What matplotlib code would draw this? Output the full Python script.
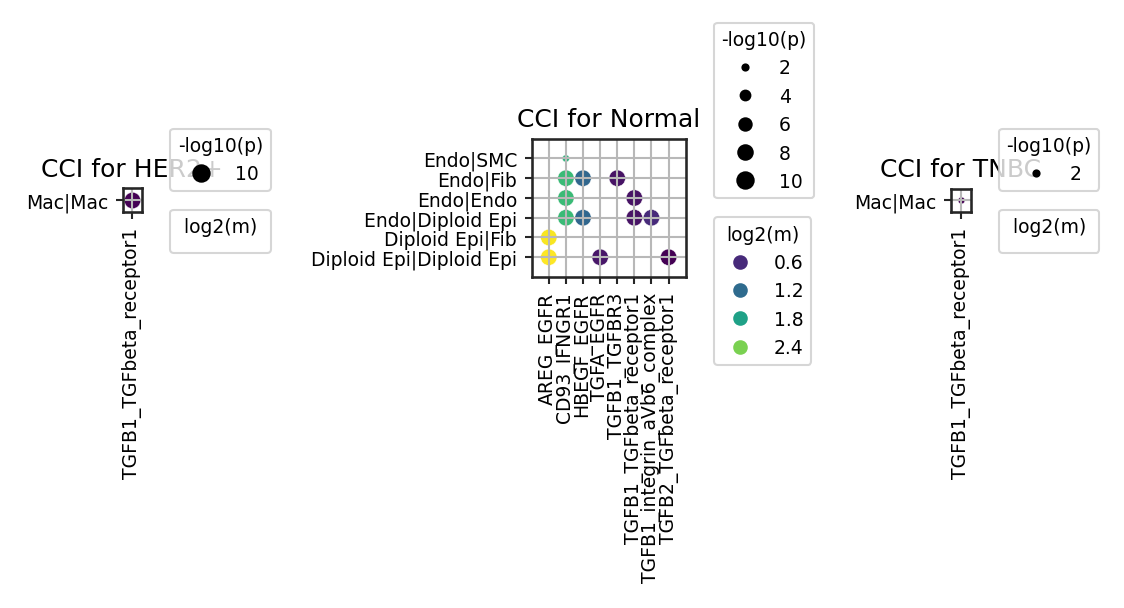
import matplotlib
matplotlib.use("Agg")
import matplotlib.pyplot as plt
import matplotlib.transforms as mtransforms
from matplotlib.colors import Normalize
from matplotlib.lines import Line2D
import numpy as np

# ---- HER2+ ----
her2_lrs = ["TGFB1_TGFbeta_receptor1"]
her2_pairs = ["Mac|Mac"]
her2_x = ["TGFB1_TGFbeta_receptor1"]
her2_y = ["Mac|Mac"]
her2_p = [10.0]
her2_m = [0.9]
her2_size_ticks = [10]
her2_hue_ticks = []

# ---- Normal ----
normal_lrs = ["AREG_EGFR", "CD93_IFNGR1", "HBEGF_EGFR", "TGFA_EGFR", "TGFB1_TGFBR3",
              "TGFB1_TGFbeta_receptor1", "TGFB1_integrin_aVb6_complex",
              "TGFB2_TGFbeta_receptor1"]
normal_pairs = ["Diploid Epi|Diploid Epi", "Diploid Epi|Fib", "Endo|Diploid Epi",
                "Endo|Endo", "Endo|Fib", "Endo|SMC"]
normal_x = ["AREG_EGFR", "AREG_EGFR", "CD93_IFNGR1", "CD93_IFNGR1", "CD93_IFNGR1",
            "CD93_IFNGR1", "HBEGF_EGFR", "HBEGF_EGFR", "TGFA_EGFR", "TGFB1_TGFBR3",
            "TGFB1_TGFbeta_receptor1", "TGFB1_TGFbeta_receptor1",
            "TGFB1_integrin_aVb6_complex", "TGFB2_TGFbeta_receptor1"]
normal_y = ["Diploid Epi|Diploid Epi", "Diploid Epi|Fib", "Endo|Diploid Epi", "Endo|Endo",
            "Endo|Fib", "Endo|SMC", "Endo|Diploid Epi", "Endo|Fib",
            "Diploid Epi|Diploid Epi", "Endo|Fib", "Endo|Endo", "Endo|Diploid Epi",
            "Endo|Diploid Epi", "Diploid Epi|Diploid Epi"]
normal_p = [10, 10, 10, 10, 10, 2.5, 10, 10, 10, 10, 10, 10, 10, 10]
normal_m = [2.93, 2.9, 2.08, 2.08, 2.08, 2.0, 1.15, 1.15, 0.44, 0.41, 0.41, 0.41, 0.6, 0.28]
normal_size_ticks = [2, 4, 6, 8, 10]
normal_hue_ticks = [0.6, 1.2, 1.8, 2.4]

# ---- TNBC ----
tnbc_lrs = ["TGFB1_TGFbeta_receptor1"]
tnbc_pairs = ["Mac|Mac"]
tnbc_x = ["TGFB1_TGFbeta_receptor1"]
tnbc_y = ["Mac|Mac"]
tnbc_p = [2.3]
tnbc_m = [0.5]
tnbc_size_ticks = [2]
tnbc_hue_ticks = []

W, H, DPI = 1124, 609, 150
fig = plt.figure(figsize=(W / DPI, H / DPI), dpi=DPI)


def size_of(v):
    return np.clip(6.6 * np.asarray(v, dtype=float) - 4.6, 1, None)


def cci_panel(rect, title, lrs, pairs, xs, ys, p, m, size_ticks, hue_ticks):
    x0, y0, w, h = rect
    ax = fig.add_axes([x0 / W, 1 - (y0 + h) / H, w / W, h / H])
    xi = [lrs.index(v) for v in xs]
    yi = [pairs.index(v) for v in ys]
    norm = Normalize(min(m), max(m))
    ax.scatter(xi, yi, s=size_of(p), c=m, cmap="viridis", norm=norm,
               edgecolors="w", linewidths=0.2)
    ax.set_xlim(-1, len(lrs))
    ax.set_ylim(-1, len(pairs))
    ax.set_xticks(range(len(lrs)))
    ax.set_xticklabels(lrs, rotation=90, fontsize=9)
    ax.set_yticks(range(len(pairs)))
    ax.set_yticklabels(pairs, fontsize=9)
    ax.grid(True, color="#b8b8b8", linewidth=1.0)
    for s in ax.spines.values():
        s.set_color(".15")
        s.set_linewidth(1.25)
    ax.tick_params(color=".15", width=1.0, length=3.5)
    ax.set_title(title, fontsize=12)

    # legends sit a fixed distance right of the axes, stacked around its middle
    trans = mtransforms.offset_copy(ax.transAxes, fig=fig, x=19, y=0, units="dots")
    sh = [Line2D([], [], marker="o", ls="", color="k",
                 markersize=np.sqrt(size_of(v))) for v in size_ticks]
    leg1 = ax.legend(sh, [str(v) for v in size_ticks], title="-log10(p)",
                     loc="lower left", bbox_to_anchor=(1, 0.5), bbox_transform=trans,
                     fontsize=9, title_fontsize=9)
    ax.add_artist(leg1)
    hh = [Line2D([], [], marker="o", ls="", color=plt.cm.viridis(norm(v)),
                 markersize=6) for v in hue_ticks]
    hue_title = "log2(m)" if hue_ticks else " log2(m) "
    ax.legend(handles=hh, labels=[str(v) for v in hue_ticks], title=hue_title,
              loc="upper left", bbox_to_anchor=(1, 0.5), bbox_transform=trans,
              fontsize=9, title_fontsize=9)
    return ax


cci_panel((122.5, 189.3, 19.5, 24.0), "CCI for HER2+", her2_lrs, her2_pairs,
          her2_x, her2_y, her2_p, her2_m, her2_size_ticks, her2_hue_ticks)
cci_panel((531.7, 139.7, 154.0, 138.3), "CCI for Normal", normal_lrs, normal_pairs,
          normal_x, normal_y, normal_p, normal_m, normal_size_ticks, normal_hue_ticks)
cci_panel((950.7, 189.5, 20.0, 23.7), "CCI for TNBC", tnbc_lrs, tnbc_pairs,
          tnbc_x, tnbc_y, tnbc_p, tnbc_m, tnbc_size_ticks, tnbc_hue_ticks)

fig.savefig("out.png", dpi=DPI)
